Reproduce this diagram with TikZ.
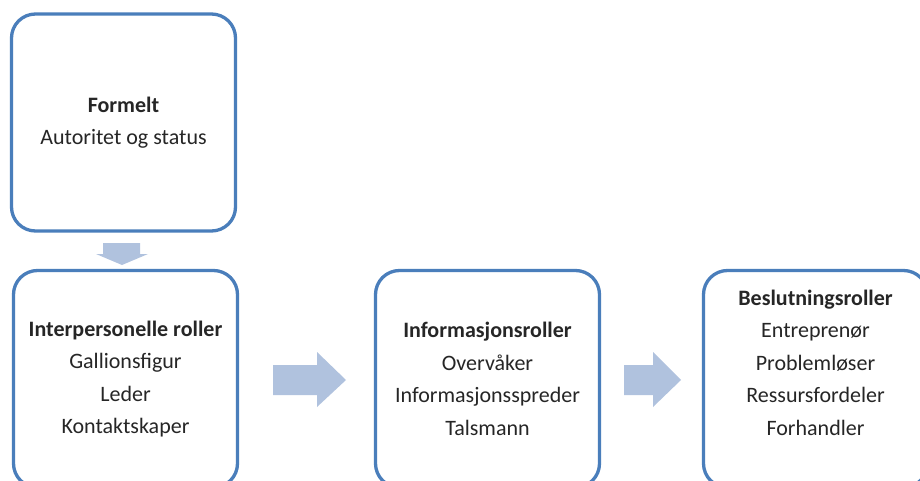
\documentclass[tikz,border=0pt]{standalone}
\usepackage{fontspec}
\setmainfont{Carlito}
\definecolor{rolebd}{HTML}{4A7EBB}
\definecolor{flowfill}{HTML}{B0C2DE}
\tikzset{
  rolebox/.style={draw=rolebd, line width=3.3pt, rounded corners=24pt, fill=white,
    minimum width=224pt, minimum height=217pt, inner sep=0pt},
  roletext/.style={align=center, inner sep=0pt,
    font=\fontsize{22}{32.5}\selectfont, text=black!85},
  flowarrow/.style={fill=flowfill, draw=none},
}
\begin{document}
\begin{tikzpicture}[x=1pt, y=-1pt]
  \useasboundingbox (0,0) rectangle (920,481);
  \clip (0,0) rectangle (920,481);

  % role boxes
  \node[rolebox] (formal) at (123.5,122.5) {};
  \node[rolebox] (inter)  at (125.5,379) {};
  \node[rolebox] (info)   at (487.5,379) {};
  \node[rolebox] (decide) at (815.5,379) {};

  % box contents
  \node[roletext] (formalT) at (formal.center) {\textbf{Formelt}\\Autoritet og status};
  \node[roletext] (interT) at (inter.center) {\textbf{Interpersonelle roller}\\Gallionsfigur\\Leder\\Kontaktskaper};
  \node[roletext] (infoT) at (info.center) {\textbf{Informasjonsroller}\\Overvåker\\Informasjonsspreder\\Talsmann};
  \node[roletext, yshift=16.5pt] (decideT) at (decide.center) {\textbf{Beslutningsroller}\\Entreprenør\\Problemløser\\Ressursfordeler\\Forhandler};

  % block arrows between the boxes
  \fill[flowarrow] (103,243) -- (140,243) -- (140,254) -- (148,254) -- (122,265)
    -- (96,254) -- (103,254) -- cycle;
  \fill[flowarrow] (273,365) -- (317,365) -- (317,352) -- (346,380) -- (317,407)
    -- (317,395) -- (273,395) -- cycle;
  \fill[flowarrow] (624,365) -- (653,365) -- (653,352) -- (681,380) -- (653,407)
    -- (653,395) -- (624,395) -- cycle;
\end{tikzpicture}
\end{document}
